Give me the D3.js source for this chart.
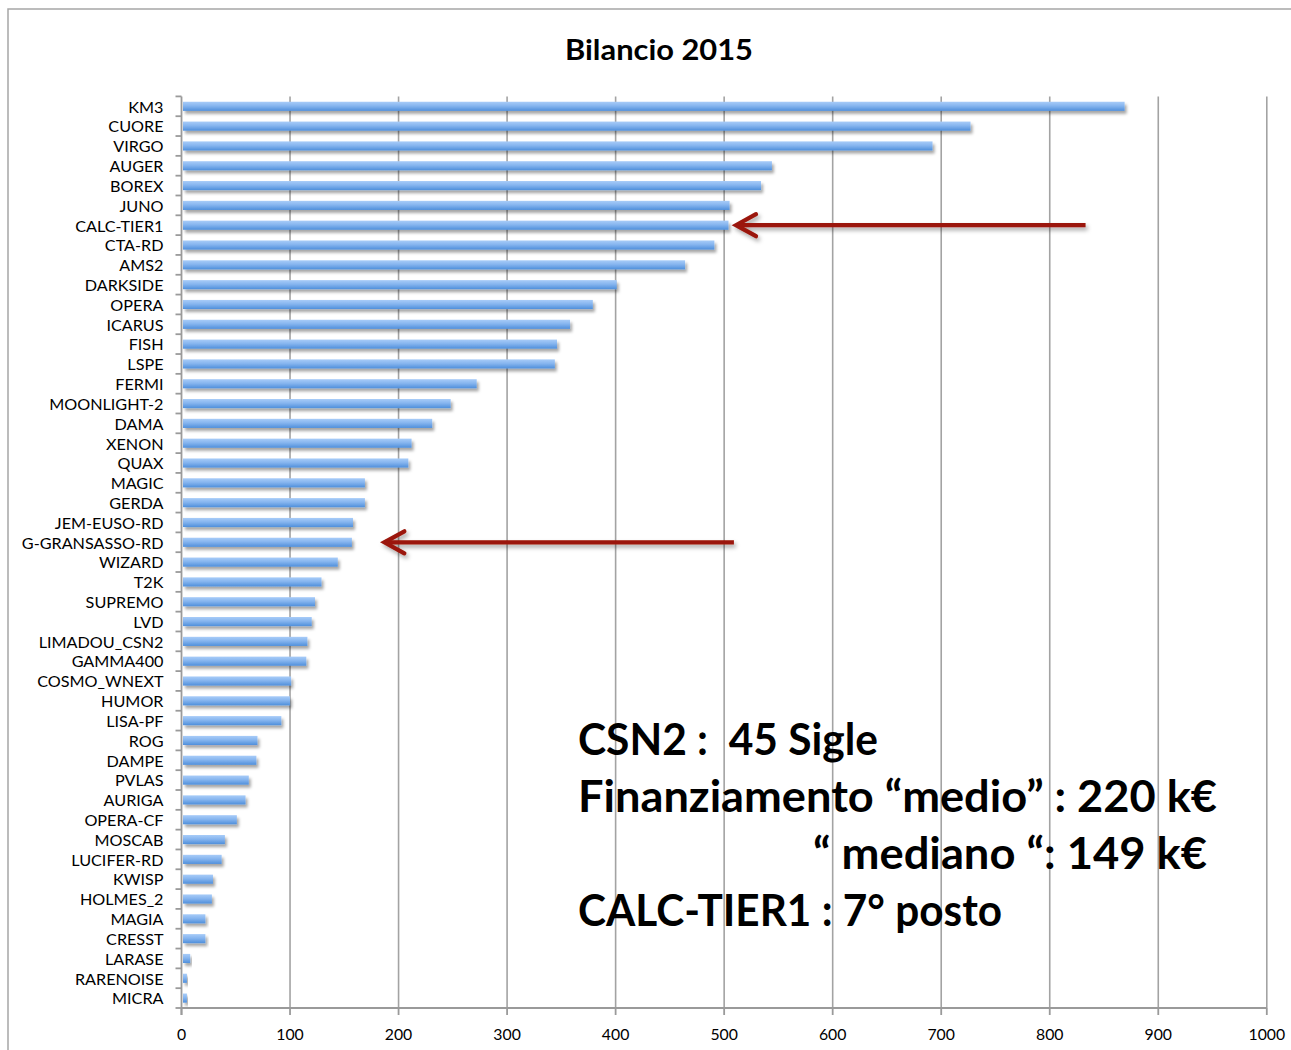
<!DOCTYPE html>
<html>
<head>
<meta charset="utf-8">
<script src="https://cdn.jsdelivr.net/npm/d3@7"></script>
<style>
  html, body { margin: 0; padding: 0; background: #fff; }
  svg { display: block; }
  text { font-family: Lato, "Open Sans", sans-serif; }
</style>
</head>
<body>
<svg id="chart" width="1291" height="1050"></svg>
<script>
// ---- data ----
const title = "Bilancio 2015";
const categories = ["KM3","CUORE","VIRGO","AUGER","BOREX","JUNO","CALC-TIER1","CTA-RD","AMS2","DARKSIDE",
  "OPERA","ICARUS","FISH","LSPE","FERMI","MOONLIGHT-2","DAMA","XENON","QUAX","MAGIC",
  "GERDA","JEM-EUSO-RD","G-GRANSASSO-RD","WIZARD","T2K","SUPREMO","LVD","LIMADOU_CSN2","GAMMA400","COSMO_WNEXT",
  "HUMOR","LISA-PF","ROG","DAMPE","PVLAS","AURIGA","OPERA-CF","MOSCAB","LUCIFER-RD","KWISP",
  "HOLMES_2","MAGIA","CRESST","LARASE","RARENOISE","MICRA"];
const values = [869,727,692,544,534,505,504,491,464,401,
  379,358,346,344,272,248,231,212,209,169,
  169,158,157,144,129,123,120,116,115,101,
  100,92,70,69,62,59,51,40,37,29,
  28,22,22,8,5,5];
const xTicks = [0,100,200,300,400,500,600,700,800,900,1000];
const notes = ["CSN2 :  45 Sigle", "Finanziamento \u201Cmedio\u201D : 220 k\u20AC", "\u201C mediano \u201C: 149 k\u20AC", "CALC-TIER1 : 7\u00B0 posto"];
const arrowCats = ["CALC-TIER1", "G-GRANSASSO-RD"];
const arrowFrom = [833, 509];
const arrowTo = [510, 186];

// ---- layout ----
const svg = d3.select("#chart");
const W = 1291, H = 1050;
const mLeft = 181.5, mRight = 1266.8, mTop = 96.4, mBottom = 1008;

const x = d3.scaleLinear().domain([0, 1000]).range([mLeft, mRight]);
const y = d3.scaleBand().domain(categories).range([mTop, mBottom]).paddingInner(0.54).paddingOuter(0.27);

const defs = svg.append("defs");
const grad = defs.append("linearGradient").attr("id", "barGrad")
  .attr("x1", 0).attr("y1", 0).attr("x2", 0).attr("y2", 1);
grad.append("stop").attr("offset", "0%").attr("stop-color", "#a8ccf8");
grad.append("stop").attr("offset", "45%").attr("stop-color", "#86b5ef");
grad.append("stop").attr("offset", "100%").attr("stop-color", "#4f8fdb");
const sh = defs.append("filter").attr("id", "shadow").attr("x", "-5%").attr("y", "-50%").attr("width", "120%").attr("height", "250%");
sh.append("feDropShadow").attr("dx", 2).attr("dy", 3).attr("stdDeviation", 1.6)
  .attr("flood-color", "#000").attr("flood-opacity", 0.35);
const shA = defs.append("filter").attr("id", "shadowA").attr("x", "-5%").attr("y", "-100%").attr("width", "120%").attr("height", "300%");
shA.append("feDropShadow").attr("dx", 2).attr("dy", 3).attr("stdDeviation", 2)
  .attr("flood-color", "#000").attr("flood-opacity", 0.35);

// frame
svg.append("path")
  .attr("d", `M8,${H} L8,9 L${W},9`)
  .attr("fill", "none").attr("stroke", "#a6a6a6").attr("stroke-width", 1.5);

// title
svg.append("text").attr("x", 565).attr("y", 60)
  .attr("font-size", 28.5).attr("font-weight", "bold").attr("fill", "#000")
  .attr("textLength", 188).attr("lengthAdjust", "spacingAndGlyphs")
  .text(title);

// gridlines
svg.append("g").selectAll("line").data(xTicks.filter(d => d > 0)).join("line")
  .attr("x1", d => x(d)).attr("x2", d => x(d))
  .attr("y1", mTop).attr("y2", mBottom)
  .attr("stroke", "#a3a3a3").attr("stroke-width", 1.6);

// bars
svg.append("g").selectAll("rect").data(categories).join("rect")
  .attr("x", x(0) + 1.5)
  .attr("y", d => y(d))
  .attr("width", (d, i) => x(values[i]) - x(0) - 1.5)
  .attr("height", y.bandwidth())
  .attr("fill", "url(#barGrad)")
  .attr("filter", "url(#shadow)");

// y axis
const yAxisG = svg.append("g");
yAxisG.append("line").attr("x1", mLeft).attr("x2", mLeft).attr("y1", mTop).attr("y2", mBottom + 7)
  .attr("stroke", "#9a9a9a").attr("stroke-width", 1.8);
const bounds = d3.range(categories.length + 1).map(i => mTop + i * (mBottom - mTop) / categories.length);
yAxisG.selectAll("line.tk").data(bounds).join("line").attr("class", "tk")
  .attr("x1", mLeft - 6).attr("x2", mLeft).attr("y1", d => d).attr("y2", d => d)
  .attr("stroke", "#9a9a9a").attr("stroke-width", 1.8);
yAxisG.selectAll("text").data(categories).join("text")
  .attr("x", 163.5).attr("y", d => y(d) + y.bandwidth() / 2 + 6.3)
  .attr("text-anchor", "end").attr("font-size", 16.2).attr("fill", "#000")
  .text(d => d);

// x axis
const xAxisG = svg.append("g");
xAxisG.append("line").attr("x1", mLeft).attr("x2", mRight).attr("y1", mBottom).attr("y2", mBottom)
  .attr("stroke", "#9a9a9a").attr("stroke-width", 1.8);
xAxisG.selectAll("line.tk").data(xTicks).join("line").attr("class", "tk")
  .attr("x1", d => x(d)).attr("x2", d => x(d)).attr("y1", mBottom).attr("y2", mBottom + 7)
  .attr("stroke", "#9a9a9a").attr("stroke-width", 1.8);
xAxisG.selectAll("text").data(xTicks).join("text")
  .attr("x", d => x(d)).attr("y", 1040)
  .attr("text-anchor", "middle").attr("font-size", 15.8).attr("fill", "#000")
  .text(d => d);

// arrows
const arrowColor = "#9b1509";
const ag = svg.append("g").attr("filter", "url(#shadowA)");
arrowCats.forEach((c, i) => {
  const yy = y(c) + y.bandwidth() / 2;
  const x0 = x(arrowFrom[i]), x1 = x(arrowTo[i]);
  ag.append("line").attr("x1", x0).attr("x2", x1 + 2).attr("y1", yy).attr("y2", yy)
    .attr("stroke", arrowColor).attr("stroke-width", 4.2);
  ag.append("path")
    .attr("d", `M${x1 + 21},${yy - 11} L${x1 + 1},${yy} L${x1 + 21},${yy + 11}`)
    .attr("fill", "none").attr("stroke", arrowColor).attr("stroke-width", 4.2)
    .attr("stroke-linecap", "round").attr("stroke-linejoin", "miter");
});

// annotation text
const noteX = [578, 578, 813, 578];
const noteY = [755, 812, 869, 926];
const noteW = [300, 639, 394, 424];
svg.append("g").selectAll("text").data(notes).join("text")
  .attr("x", (d, i) => noteX[i]).attr("y", (d, i) => noteY[i])
  .attr("font-size", 43).attr("font-weight", "bold").attr("fill", "#000")
  .attr("textLength", (d, i) => noteW[i]).attr("lengthAdjust", "spacingAndGlyphs")
  .style("white-space", "pre")
  .text(d => d);
</script>
</body>
</html>
